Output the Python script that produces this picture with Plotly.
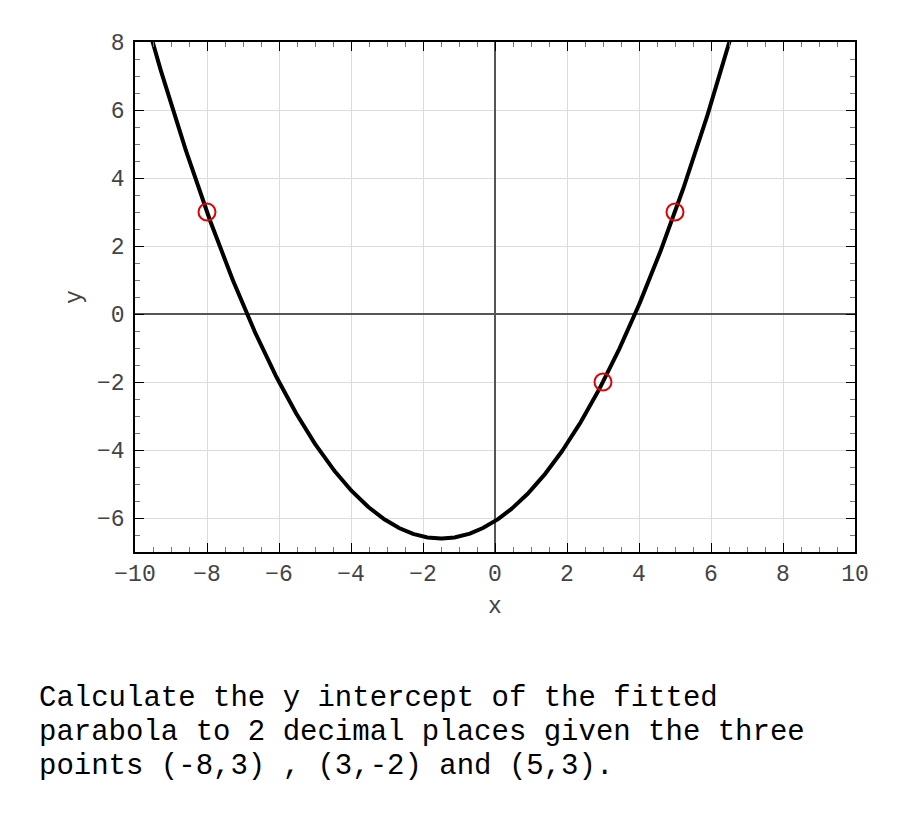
import numpy as np
import plotly.graph_objects as go

# Data points given in the question
pts_x = [-8, 3, 5]
pts_y = [3, -2, 3]

# Fitted parabola through the three points
coef = np.polyfit(pts_x, pts_y, 2)
curve_x = np.linspace(-10, 10, 801)
curve_y = np.polyval(coef, curve_x)

x_ticks = [-10, -8, -6, -4, -2, 0, 2, 4, 6, 8, 10]
y_ticks = [-6, -4, -2, 0, 2, 4, 6, 8]

question_lines = [
    "Calculate the y intercept of the fitted",
    "parabola to 2 decimal places given the three",
    "points (-8,3) , (3,-2) and (5,3).",
]

FONT = "Liberation Mono, Courier New, monospace"

fig = go.Figure()
fig.add_trace(go.Scatter(x=curve_x, y=curve_y, mode="lines",
                         line=dict(color="black", width=4), hoverinfo="skip"))
fig.add_trace(go.Scatter(x=pts_x, y=pts_y, mode="markers",
                         marker=dict(symbol="circle-open", size=17,
                                     color="#e00000", line=dict(width=2))))

axis_common = dict(
    showline=True, linecolor="black", linewidth=1.5, mirror="ticks",
    ticks="inside", ticklen=9, tickcolor="black", tickwidth=1,
    showgrid=True, gridcolor="#dcdcdc", gridwidth=1,
    zeroline=True, zerolinecolor="#555555", zerolinewidth=1.5,
    tickfont=dict(family=FONT, size=23, color="#444444"),
    minor=dict(dtick=0.5, ticks="inside", ticklen=5, tickcolor="#777777",
               showgrid=False),
    title_font=dict(family=FONT, size=23, color="#444444"),
)

fig.update_xaxes(range=[-10, 10], tickvals=x_ticks, title_text="x",
                 title_standoff=10, **axis_common)
fig.update_yaxes(range=[-7, 8], tickvals=y_ticks, title_text="y",
                 title_standoff=9, ticklabelstandoff=4, **axis_common)

for i, line in enumerate(question_lines):
    fig.add_annotation(text=line, xref="paper", yref="paper",
                       x=-0.136, y=-0.250 - i * 0.0676,
                       xanchor="left", yanchor="top", showarrow=False,
                       font=dict(family=FONT, size=29, color="black"))

fig.update_layout(
    width=900, height=825,
    margin=dict(l=127, r=53, t=34, b=281),
    plot_bgcolor="white", paper_bgcolor="white",
    showlegend=False,
)

fig.write_html("out.html")
